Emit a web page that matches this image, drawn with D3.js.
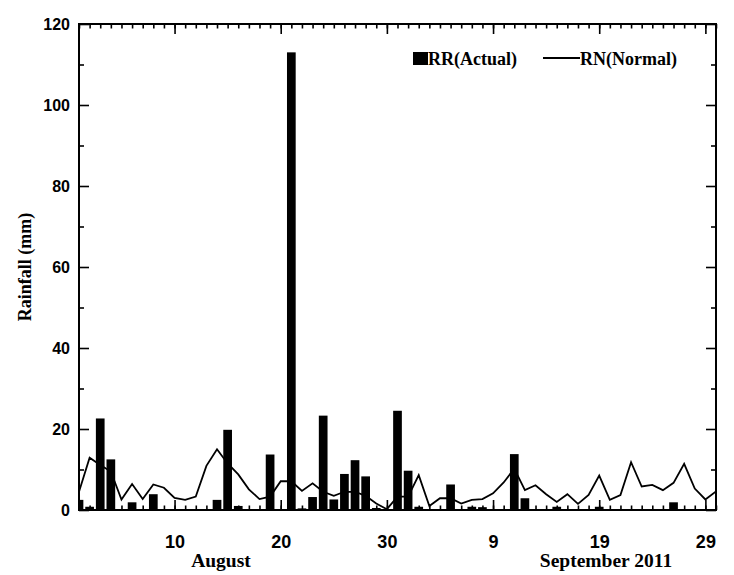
<!DOCTYPE html>
<html>
<head>
<meta charset="utf-8">
<script src="https://cdn.jsdelivr.net/npm/d3@7"></script>
<style>
  body { margin: 0; background: #fff; }
  svg { display: block; }
</style>
</head>
<body>
<div id="app"></div>
<script>
// Daily rainfall, 1 Aug - 30 Sep 2011 (day index 1..61)
const actual = [
  2.5, 0.8, 22.6, 12.5, 0, 1.9, 0, 3.9, 0, 0,
  0, 0, 0, 2.5, 19.8, 1.0, 0, 0, 13.7, 0,
  113, 0.4, 3.2, 23.3, 2.6, 8.9, 12.3, 8.3, 0.5, 0,
  24.5, 9.7, 0.8, 0, 0, 6.3, 0, 0.8, 0.7, 0,
  0, 13.8, 2.9, 0, 0, 0.8, 0, 0, 0, 0.8,
  0, 0, 0, 0, 0, 0, 1.9, 0, 0, 0,
  0
];
const normal = [
  4.5, 12.9, 11.1, 9.5, 2.6, 6.4, 2.7, 6.3, 5.5, 3.0,
  2.5, 3.3, 10.9, 15.0, 11.5, 8.8, 5.1, 2.7, 3.3, 7.1,
  7.1, 4.7, 6.6, 4.5, 3.5, 4.5, 4.5, 3.5, 1.6, 0.2,
  3.3, 3.3, 8.6, 1.0, 2.9, 2.9, 1.6, 2.5, 2.7, 4.1,
  6.8, 10.2, 4.9, 6.1, 3.9, 2.0, 3.9, 1.5, 3.7, 8.5,
  2.5, 3.7, 11.8, 5.8, 6.2, 4.9, 6.7, 11.4, 5.3, 2.6,
  4.6
];
const xTickDays = [10, 20, 30, 40, 50, 60];
const xTickLabels = ["10", "20", "30", "9", "19", "29"];
const yTicks = [0, 20, 40, 60, 80, 100, 120];
const yMinor = [10, 30, 50, 70, 90, 110];

const width = 734, height = 575;
const pLeft = 79, pRight = 716, pTop = 24, pBottom = 510;

const svg = d3.select("#app").append("svg")
  .attr("width", width)
  .attr("height", height);

const days = actual.map((v, i) => i + 1);

const x = d3.scaleLinear().domain([1, 61]).range([pLeft, pRight]);
const y = d3.scaleLinear().domain([0, 120]).range([pBottom, pTop]);

svg.append("clipPath").attr("id", "plot")
  .append("rect")
  .attr("x", pLeft).attr("y", pTop)
  .attr("width", pRight - pLeft).attr("height", pBottom - pTop);

// Normal rainfall line
const line = d3.line()
  .x((d, i) => x(i + 1))
  .y(d => y(d));

svg.append("path")
  .datum(normal)
  .attr("clip-path", "url(#plot)")
  .attr("fill", "none")
  .attr("stroke", "#000")
  .attr("stroke-width", 1.8)
  .attr("d", line);

// Actual rainfall bars
const barW = 8.7;
svg.append("g")
  .attr("clip-path", "url(#plot)")
  .selectAll("rect")
  .data(actual)
  .join("rect")
  .attr("x", (d, i) => x(i + 1) - barW / 2)
  .attr("y", d => y(d))
  .attr("width", barW)
  .attr("height", d => y(0) - y(d))
  .attr("fill", "#000");

// Axes: ticks point inward on all four sides
const tickFont = "'Liberation Sans', Arial, sans-serif";

function style(g) {
  g.select(".domain").remove();
  g.selectAll(".tick line").attr("stroke", "#000").attr("stroke-width", 1.6);
}

svg.append("g")
  .attr("transform", `translate(0,${pBottom})`)
  .call(d3.axisBottom(x).tickValues(days).tickSize(-4.5).tickFormat(""))
  .call(style);
svg.append("g")
  .attr("transform", `translate(0,${pBottom})`)
  .call(d3.axisBottom(x).tickValues(xTickDays).tickSize(-10).tickPadding(25)
    .tickFormat((d, i) => xTickLabels[i]))
  .call(style)
  .call(g => g.selectAll("text")
    .attr("fill", "#000")
    .style("font-family", tickFont)
    .style("font-weight", "bold")
    .style("font-size", "18px"));

svg.append("g")
  .attr("transform", `translate(0,${pTop})`)
  .call(d3.axisTop(x).tickValues(days).tickSize(-4.5).tickFormat(""))
  .call(style);
svg.append("g")
  .attr("transform", `translate(0,${pTop})`)
  .call(d3.axisTop(x).tickValues(xTickDays).tickSize(-10).tickFormat(""))
  .call(style);

svg.append("g")
  .attr("transform", `translate(${pLeft},0)`)
  .call(d3.axisLeft(y).tickValues(yTicks).tickSize(-10).tickPadding(9))
  .call(style)
  .call(g => g.selectAll("text")
    .attr("fill", "#000")
    .style("font-family", tickFont)
    .style("font-weight", "bold")
    .style("font-size", "16px"));
svg.append("g")
  .attr("transform", `translate(${pLeft},0)`)
  .call(d3.axisLeft(y).tickValues(yMinor).tickSize(-5).tickFormat(""))
  .call(style);

svg.append("g")
  .attr("transform", `translate(${pRight},0)`)
  .call(d3.axisRight(y).tickValues(yTicks).tickSize(-10).tickFormat(""))
  .call(style);
svg.append("g")
  .attr("transform", `translate(${pRight},0)`)
  .call(d3.axisRight(y).tickValues(yMinor).tickSize(-5).tickFormat(""))
  .call(style);

// Frame
svg.append("rect")
  .attr("x", pLeft).attr("y", pTop)
  .attr("width", pRight - pLeft).attr("height", pBottom - pTop)
  .attr("fill", "none")
  .attr("stroke", "#000")
  .attr("stroke-width", 2);

// Labels
const serif = "'Liberation Serif', 'Times New Roman', serif";

svg.append("text")
  .attr("transform", `translate(31,${(pTop + pBottom) / 2}) rotate(-90)`)
  .attr("text-anchor", "middle")
  .style("font-family", serif)
  .style("font-weight", "bold")
  .style("font-size", "18px")
  .text("Rainfall (mm)");

svg.append("text")
  .attr("x", 221).attr("y", 567)
  .attr("text-anchor", "middle")
  .style("font-family", serif)
  .style("font-weight", "bold")
  .style("font-size", "19.5px")
  .text("August");

svg.append("text")
  .attr("x", 606).attr("y", 567)
  .attr("text-anchor", "middle")
  .style("font-family", serif)
  .style("font-weight", "bold")
  .style("font-size", "19.5px")
  .text("September 2011");

// Legend
const legend = svg.append("g")
  .style("font-family", serif)
  .style("font-weight", "bold")
  .style("font-size", "18px");

legend.append("rect")
  .attr("x", 413).attr("y", 52)
  .attr("width", 15).attr("height", 13)
  .attr("fill", "#000");
legend.append("text")
  .attr("x", 428).attr("y", 65)
  .text("RR(Actual)");
legend.append("line")
  .attr("x1", 543).attr("x2", 580)
  .attr("y1", 58).attr("y2", 58)
  .attr("stroke", "#000")
  .attr("stroke-width", 2);
legend.append("text")
  .attr("x", 580).attr("y", 65)
  .text("RN(Normal)");
</script>
</body>
</html>
